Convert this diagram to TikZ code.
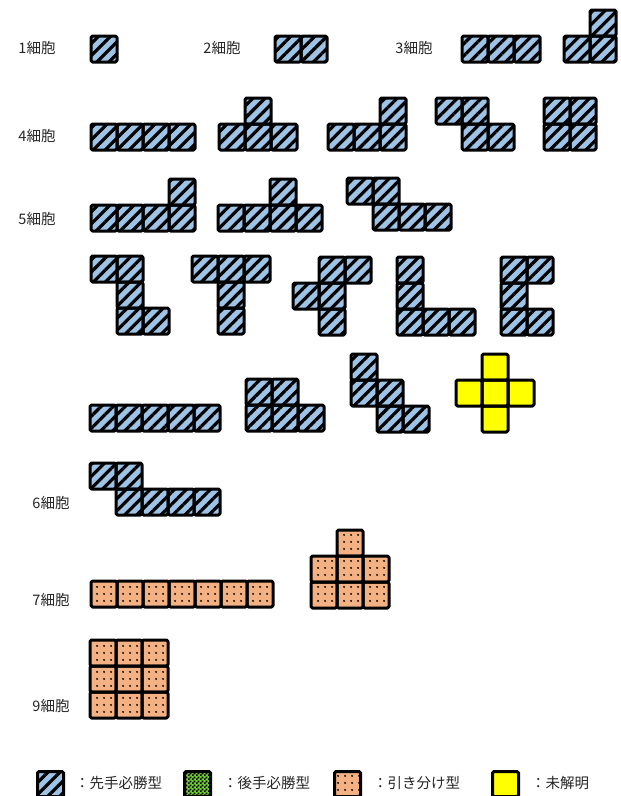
\documentclass[tikz,border=0pt]{standalone}
\usepackage{fontspec}
\newfontfamily\jp{Noto Sans CJK JP}
\usetikzlibrary{patterns,patterns.meta}
\definecolor{cblue}{HTML}{9DC3E6}
\definecolor{corange}{HTML}{F4B183}
\definecolor{cgreen}{HTML}{6CD02C}
\definecolor{cyellow}{HTML}{FFFF00}
\pgfdeclarepatternformonly{finecheck}{\pgfpointorigin}{\pgfqpoint{4pt}{4pt}}{\pgfqpoint{4pt}{4pt}}{%
  \pgfpathrectangle{\pgfpointorigin}{\pgfqpoint{2pt}{2pt}}%
  \pgfpathrectangle{\pgfqpoint{2pt}{2pt}}{\pgfqpoint{2pt}{2pt}}%
  \pgfusepath{fill}}
\tikzset{
 bluecell/.style={preaction={fill=cblue}, pattern={Lines[angle=45,distance=8.5pt,line width=3.2pt]}, pattern color=black},
 orangecell/.style={preaction={fill=corange}, pattern={Dots[distance=6.5pt,radius=1.1pt]}, pattern color=black},
 greencell/.style={preaction={fill=cgreen}, pattern=finecheck, pattern color=black},
 yellowcell/.style={fill=cyellow},
 celledge/.style={draw=black, line width=3pt, rounded corners=1.5pt, line join=round},
 lbl/.style={font=\jp\fontsize{14.5}{17}\selectfont, text=black!85, inner sep=0pt},
 legbox/.style={draw=black, line width=3pt, rounded corners=1.5pt, minimum width=26pt, minimum height=25pt, inner sep=0pt, anchor=north west},
}
\newcommand\poly[4]{%
  \foreach \cx/\cy in {#4} {\path[#1] ({#2+\cx*26},{#3+\cy*26}) rectangle ++(26,26);}
  \foreach \cx/\cy in {#4} {\path[celledge] ({#2+\cx*26},{#3+\cy*26}) rectangle ++(26,26);}
}
\begin{document}
\begin{tikzpicture}[x=1pt,y=-1pt]
\useasboundingbox (0,0) rectangle (621,796);
\fill[white] (0,0) rectangle (621,796);
% labels
\node[lbl] (n1) at (37,48) {1細胞};
\node[lbl] (n2) at (222,48) {2細胞};
\node[lbl] (n3) at (414,48) {3細胞};
\node[lbl] (n4) at (37,136) {4細胞};
\node[lbl] (n5) at (37,219) {5細胞};
\node[lbl] (n6) at (51,503) {6細胞};
\node[lbl] (n7) at (51,600) {7細胞};
\node[lbl] (n9) at (51,706) {9細胞};
% 1-3 cells
\poly{bluecell}{91}{36}{0/0}
\poly{bluecell}{275}{36}{0/0,1/0}
\poly{bluecell}{462}{36}{0/0,1/0,2/0}
\poly{bluecell}{564}{10}{1/0,0/1,1/1}
% 4 cells
\poly{bluecell}{91}{124}{0/0,1/0,2/0,3/0}
\poly{bluecell}{219}{98}{1/0,0/1,1/1,2/1}
\poly{bluecell}{328}{98}{2/0,0/1,1/1,2/1}
\poly{bluecell}{436}{98}{0/0,1/0,1/1,2/1}
\poly{bluecell}{544}{98}{0/0,1/0,0/1,1/1}
% 5 cells
\poly{bluecell}{91}{179}{3/0,0/1,1/1,2/1,3/1}
\poly{bluecell}{218}{179}{2/0,0/1,1/1,2/1,3/1}
\poly{bluecell}{347}{178}{0/0,1/0,1/1,2/1,3/1}
\poly{bluecell}{91}{256}{0/0,1/0,1/1,1/2,2/2}
\poly{bluecell}{192}{256}{0/0,1/0,2/0,1/1,1/2}
\poly{bluecell}{293}{257}{1/0,2/0,0/1,1/1,1/2}
\poly{bluecell}{397}{257}{0/0,0/1,0/2,1/2,2/2}
\poly{bluecell}{501}{257}{0/0,1/0,0/1,0/2,1/2}
\poly{bluecell}{90}{405}{0/0,1/0,2/0,3/0,4/0}
\poly{bluecell}{246}{379}{0/0,1/0,0/1,1/1,2/1}
\poly{bluecell}{351}{354}{0/0,0/1,1/1,1/2,2/2}
\poly{yellowcell}{456}{354}{1/0,0/1,1/1,2/1,1/2}
% 6 cells
\poly{bluecell}{90}{463}{0/0,1/0,1/1,2/1,3/1,4/1}
% 7 cells
\poly{orangecell}{91}{581}{0/0,1/0,2/0,3/0,4/0,5/0,6/0}
\poly{orangecell}{311}{530}{1/0,0/1,1/1,2/1,0/2,1/2,2/2}
% 9 cells
\poly{orangecell}{90}{640}{0/0,1/0,2/0,0/1,1/1,2/1,0/2,1/2,2/2}
% legend
\node[legbox, bluecell] (kb) at (36,770) {};
\node[legbox, greencell] (kg) at (183,770) {};
\node[legbox, orangecell] (ko) at (333,770) {};
\node[legbox, yellowcell] (ky) at (491,770) {};
\node[lbl, anchor=west] (tb) at (75,783) {：先手必勝型};
\node[lbl, anchor=west] (tg) at (223,783) {：後手必勝型};
\node[lbl, anchor=west] (to) at (373,783) {：引き分け型};
\node[lbl, anchor=west] (ty) at (531,783) {：未解明};
\end{tikzpicture}
\end{document}
